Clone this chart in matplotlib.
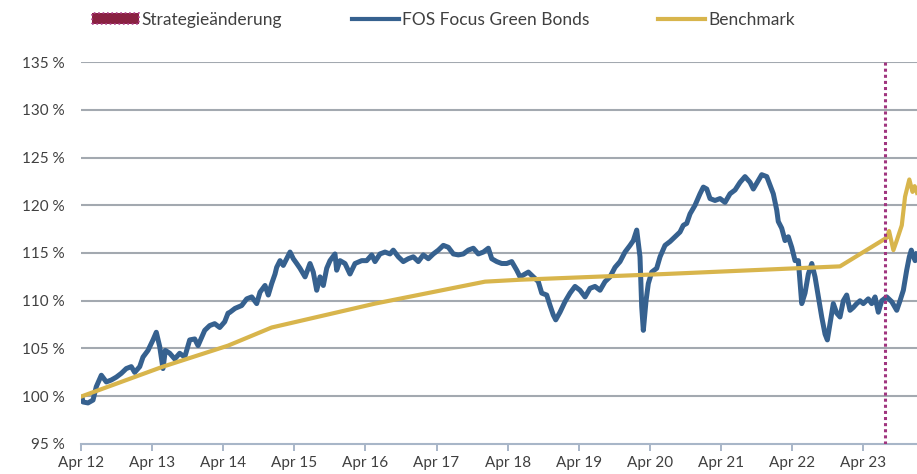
import matplotlib
import matplotlib.pyplot as plt
from matplotlib.lines import Line2D
from matplotlib.patches import Patch

matplotlib.use("Agg")

# Time in decimal years, values in percent
fund_t = [
    2012.264, 2012.278, 2012.348, 2012.419, 2012.465, 2012.536, 2012.606, 2012.676,
    2012.746, 2012.817, 2012.887, 2012.957, 2013.005, 2013.076, 2013.122, 2013.192,
    2013.263, 2013.309, 2013.357, 2013.403, 2013.436, 2013.498, 2013.568, 2013.638,
    2013.709, 2013.779, 2013.849, 2013.896, 2013.990, 2014.060, 2014.130, 2014.201,
    2014.271, 2014.318, 2014.346, 2014.416, 2014.510, 2014.581, 2014.651, 2014.721,
    2014.768, 2014.838, 2014.884, 2014.932, 2014.979, 2015.002, 2015.049, 2015.095,
    2015.143, 2015.190, 2015.236, 2015.284, 2015.330, 2015.401, 2015.471, 2015.517,
    2015.565, 2015.612, 2015.658, 2015.706, 2015.752, 2015.822, 2015.846, 2015.893,
    2015.963, 2016.033, 2016.104, 2016.198, 2016.268, 2016.339, 2016.385, 2016.455,
    2016.526, 2016.596, 2016.642, 2016.713, 2016.783, 2016.853, 2016.924, 2016.994,
    2017.064, 2017.135, 2017.205, 2017.276, 2017.346, 2017.416, 2017.487, 2017.557,
    2017.627, 2017.698, 2017.768, 2017.838, 2017.909, 2017.979, 2018.027, 2018.097,
    2018.167, 2018.238, 2018.308, 2018.378, 2018.425, 2018.471, 2018.542, 2018.612,
    2018.682, 2018.730, 2018.800, 2018.847, 2018.893, 2018.927, 2018.987, 2019.057,
    2019.128, 2019.198, 2019.268, 2019.339, 2019.409, 2019.479, 2019.550, 2019.620,
    2019.690, 2019.761, 2019.831, 2019.901, 2019.972, 2020.018, 2020.066, 2020.112,
    2020.136, 2020.159, 2020.197, 2020.229, 2020.277, 2020.347, 2020.394, 2020.464,
    2020.535, 2020.605, 2020.675, 2020.721, 2020.769, 2020.816, 2020.886, 2020.956,
    2021.003, 2021.051, 2021.097, 2021.167, 2021.238, 2021.308, 2021.378, 2021.449,
    2021.519, 2021.589, 2021.660, 2021.706, 2021.776, 2021.824, 2021.895, 2021.941,
    2021.987, 2022.035, 2022.057, 2022.105, 2022.152, 2022.198, 2022.246, 2022.293,
    2022.339, 2022.387, 2022.433, 2022.480, 2022.528, 2022.574, 2022.621, 2022.668,
    2022.715, 2022.747, 2022.785, 2022.831, 2022.879, 2022.925, 2022.972, 2023.019,
    2023.066, 2023.112, 2023.160, 2023.207, 2023.253, 2023.323, 2023.371, 2023.418,
    2023.464, 2023.512, 2023.582, 2023.653, 2023.723, 2023.769, 2023.816, 2023.863,
    2023.900, 2023.928, 2023.981, 2024.008,
]
fund_v = [
    99.9, 99.4, 99.3, 99.6, 101.0, 102.2, 101.5, 101.7,
    102.0, 102.4, 102.9, 103.1, 102.5, 103.1, 104.1, 104.8,
    105.9, 106.7, 105.2, 102.9, 104.8, 104.5, 103.9, 104.5,
    104.1, 105.9, 106.0, 105.3, 106.9, 107.4, 107.6, 107.2,
    107.8, 108.7, 108.8, 109.2, 109.5, 110.2, 110.4, 109.7,
    110.9, 111.6, 110.6, 111.8, 112.8, 113.5, 114.2, 113.7,
    114.4, 115.1, 114.4, 113.9, 113.4, 112.5, 113.9, 113.0,
    111.1, 112.5, 111.6, 113.4, 114.2, 114.9, 113.2, 114.2,
    113.9, 112.8, 113.9, 114.2, 114.2, 114.8, 114.1, 114.9,
    115.1, 114.9, 115.3, 114.6, 114.1, 114.4, 114.6, 114.1,
    114.8, 114.4, 114.9, 115.3, 115.8, 115.6, 114.9, 114.8,
    114.9, 115.3, 115.5, 114.9, 115.1, 115.5, 114.4, 114.1,
    113.9, 113.9, 114.1, 113.2, 112.5, 112.7, 113.0, 112.5,
    112.0, 110.8, 110.6, 109.5, 108.5, 108.0, 108.8, 109.9,
    110.8, 111.5, 111.1, 110.4, 111.3, 111.5, 111.1, 112.0,
    112.5, 113.5, 114.1, 115.1, 115.8, 116.3, 117.4, 114.6,
    109.4, 106.9, 110.0, 111.8, 113.0, 113.4, 114.6, 115.8,
    116.2, 116.7, 117.2, 117.9, 118.1, 119.1, 120.0, 121.2,
    121.9, 121.7, 120.7, 120.5, 120.7, 120.3, 121.2, 121.6,
    122.4, 123.0, 122.4, 121.7, 122.6, 123.2, 123.0, 122.1,
    121.2, 119.5, 118.3, 117.6, 116.3, 116.7, 115.6, 114.2,
    114.2, 109.7, 110.8, 112.8, 113.9, 112.5, 110.4, 108.3,
    106.5, 105.9, 107.6, 109.7, 108.7, 108.3, 110.0, 110.6,
    109.0, 109.3, 109.7, 110.0, 109.7, 110.2, 109.7, 110.4,
    108.8, 110.0, 110.4, 109.9, 109.0, 110.0, 111.1, 113.2,
    114.6, 115.3, 114.2, 114.9,
]

bench_t = [2012.264, 2013.403, 2014.318, 2014.932, 2016.385, 2017.933, 2018.425,
           2020.464, 2022.925, 2023.582, 2023.615, 2023.676, 2023.723, 2023.794,
           2023.840, 2023.900, 2023.945, 2023.975, 2024.008]
bench_v = [100.0, 103.1, 105.3, 107.2, 109.7, 112.0, 112.2,
           112.8, 113.6, 116.6, 117.3, 115.3, 116.3, 117.9,
           120.9, 122.7, 121.4, 122.0, 121.3]

strategy_change = 2023.559

tick_pos = [2012.25 + i for i in range(12)]
tick_labels = [f"Apr {y}" for y in range(12, 24)]
y_ticks = [95, 100, 105, 110, 115, 120, 125, 130, 135]

BLUE = "#36618f"
GOLD = "#d8b54c"
PURPLE = "#a0357f"
GRID = "#a3a9b0"
TEXT = "#404040"

plt.rcParams["font.family"] = ["Lato", "DejaVu Sans"]

fig = plt.figure(figsize=(9.17, 4.74), dpi=100)
ax = fig.add_axes([81 / 917, 1 - 444 / 474, 1 - 81 / 917, (444 - 62) / 474])

ax.plot(fund_t, fund_v, color=BLUE, lw=3.6, solid_joinstyle="round", zorder=3)
ax.plot(bench_t, bench_v, color=GOLD, lw=3.0, zorder=4)
ax.axvline(strategy_change, color=PURPLE, lw=2.2, ls=(0, (1, 1)), zorder=5)

ax.set_xlim(2012.25, 2024.008)
ax.set_ylim(95, 135)
ax.set_yticks(y_ticks)
ax.set_yticklabels([f"{v} %" for v in y_ticks])
ax.set_xticks(tick_pos)
ax.set_xticklabels(tick_labels)

for v in y_ticks[1:]:
    ax.axhline(v, color=GRID, lw=1.5, zorder=1)

for s in ["top", "right", "left"]:
    ax.spines[s].set_visible(False)
ax.spines["bottom"].set_color("#a8b6c8")
ax.spines["bottom"].set_linewidth(1.5)
ax.tick_params(axis="y", length=0, pad=11.5, labelsize=11, labelcolor=TEXT)
ax.tick_params(axis="x", length=5, width=1.4, color="#a8b6c8", pad=4,
               labelsize=11, labelcolor=TEXT)

handles = [
    Patch(facecolor="#8a2142", edgecolor="#b0478f", linestyle=":", lw=1.2),
    Line2D([], [], color=BLUE, lw=3.0),
    Line2D([], [], color=GOLD, lw=3.0),
]
labels = ["Strategieänderung", "FOS Focus Green Bonds", "Benchmark"]
fig.legend(handles, labels, loc="center left", bbox_to_anchor=(92 / 917, 1 - 20 / 474),
           ncol=3, frameon=False, fontsize=12.5, handlelength=2.7, handleheight=0.6,
           handletextpad=0.17, columnspacing=4.0, borderpad=0, borderaxespad=0,
           labelcolor=TEXT)

fig.savefig("out.png", dpi=100)
